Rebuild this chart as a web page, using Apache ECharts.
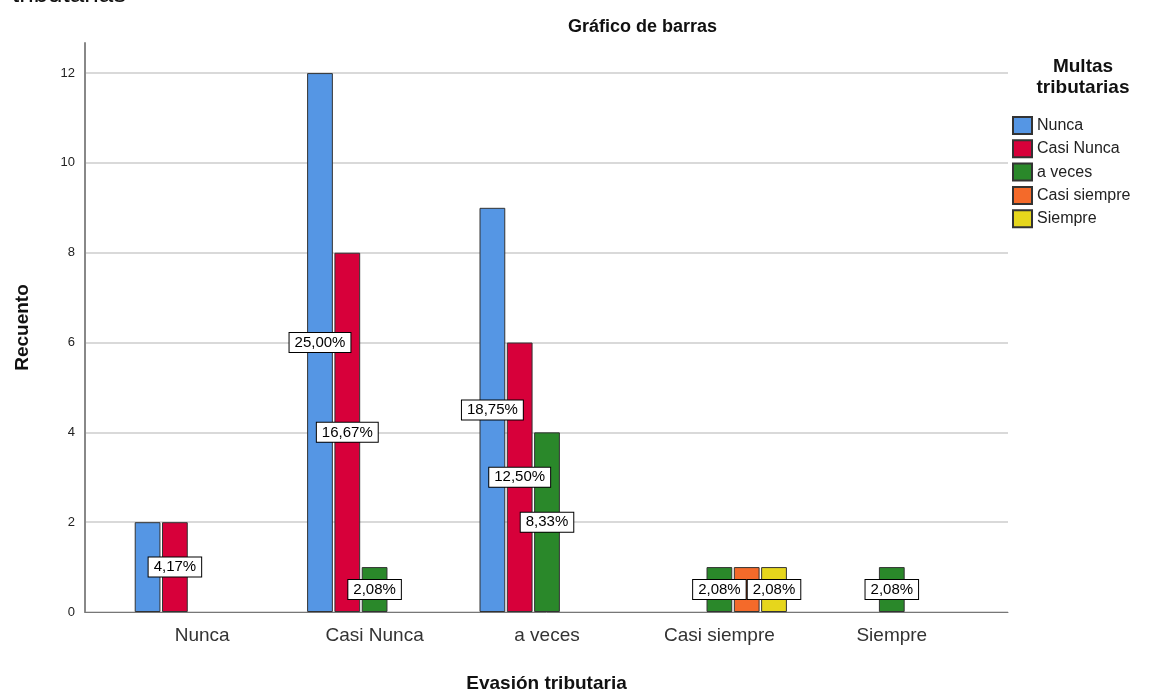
<!DOCTYPE html>
<html>
<head>
<meta charset="utf-8">
<script src="https://cdn.jsdelivr.net/npm/echarts@6/dist/echarts.min.js"></script>
<style>
  html, body { margin: 0; padding: 0; background: #fff; }
  #chart { width: 1162px; height: 691px; }
</style>
</head>
<body>
<div id="chart"></div>
<script>
// categories on the x axis (Evasión tributaria)
const categories = ['Nunca', 'Casi Nunca', 'a veces', 'Casi siempre', 'Siempre'];
// legend groups (Multas tributarias)
const seriesNames = ['Nunca', 'Casi Nunca', 'a veces', 'Casi siempre', 'Siempre'];
const colors = ['#5596e4', '#d7003a', '#2a882a', '#f46a2a', '#e6d61c'];

// counts per series, one per category
const nuncaValues = [2, 12, 9, 0, 0];
const casiNuncaValues = [2, 8, 6, 0, 0];
const aVecesValues = [0, 1, 4, 1, 1];
const casiSiempreValues = [0, 0, 0, 1, 0];
const siempreValues = [0, 0, 0, 1, 0];
const allValues = [nuncaValues, casiNuncaValues, aVecesValues, casiSiempreValues, siempreValues];

// labels SPSS dropped because they overlapped: [seriesIndex, categoryIndex]
const hiddenLabels = [[0, 0], [3, 3]];

const total = allValues.flat().reduce((a, b) => a + b, 0);
const yMax = 12.67;

const pct = v => (v / total * 100).toFixed(2).replace('.', ',') + '%';

const series = allValues.map((vals, si) => ({
  name: seriesNames[si],
  type: 'bar',
  xAxisIndex: 1,
  yAxisIndex: 1,
  barCategoryGap: '21.7%',
  barGap: '6%',
  itemStyle: { color: colors[si], borderColor: '#333', borderWidth: 1 },
  label: {
    show: true,
    position: 'inside',
    formatter: p => pct(p.value),
    backgroundColor: '#fff',
    borderColor: '#000',
    borderWidth: 1,
    padding: [2, 5],
    fontSize: 15,
    fontFamily: 'Liberation Sans, Arial, sans-serif',
    color: '#000'
  },
  data: vals.map((v, ci) => {
    if (v === 0) return '-';
    const hide = hiddenLabels.some(h => h[0] === si && h[1] === ci);
    return hide ? { value: v, label: { show: false } } : v;
  })
}));

const chart = echarts.init(document.getElementById('chart'));
chart.setOption({
  animation: false,
  textStyle: { fontFamily: 'Liberation Sans, Arial, sans-serif' },
  title: {
    text: 'Gráfico de barras',
    left: 563,
    top: 13,
    textStyle: { fontSize: 18, fontWeight: 'bold', color: '#111' }
  },
  graphic: [
    {
      type: 'text',
      x: 12,
      y: -18,
      style: { text: 'tributarias', font: '26px Liberation Sans', fill: '#111' }
    },
    {
      type: 'text',
      x: 1083,
      y: 56,
      style: {
        text: 'Multas\ntributarias',
        align: 'center',
        font: 'bold 19px Liberation Sans',
        lineHeight: 21,
        fill: '#111'
      }
    }
  ],
  legend: {
    orient: 'vertical',
    left: 1012,
    top: 116,
    padding: 0,
    itemWidth: 19,
    itemHeight: 17,
    itemGap: 4.3,
    icon: 'rect',
    textStyle: { fontSize: 16, color: '#222' },
    data: seriesNames
  },
  grid: [
    { left: 85, right: 154, top: 43, bottom: 79, outerBoundsMode: 'none' },
    { left: 116, right: 184, top: 43, bottom: 79, outerBoundsMode: 'none' }
  ],
  xAxis: [
    {
      gridIndex: 0,
      type: 'category',
      data: [''],
      name: 'Evasión tributaria',
      nameLocation: 'middle',
      nameGap: 62,
      nameTextStyle: { fontSize: 19, fontWeight: 'bold', color: '#111' },
      axisLine: { lineStyle: { color: '#777', width: 1 } },
      axisTick: { show: false },
      axisLabel: { show: false }
    },
    {
      gridIndex: 1,
      type: 'category',
      data: categories,
      axisLine: { show: false },
      axisTick: { show: false },
      axisLabel: { fontSize: 19, color: '#333', margin: 14 }
    }
  ],
  yAxis: [
    {
      gridIndex: 0,
      type: 'value',
      min: 0,
      max: yMax,
      interval: 2,
      name: 'Recuento',
      nameLocation: 'middle',
      nameGap: 53,
      nameTextStyle: { fontSize: 19, fontWeight: 'bold', color: '#111' },
      axisLine: { show: true, lineStyle: { color: '#888', width: 2 } },
      axisTick: { show: false },
      axisLabel: {
        fontSize: 13,
        color: '#222',
        margin: 10,
        formatter: v => (v % 2 === 0 ? String(v) : '')
      },
      splitLine: { showMaxLine: false, lineStyle: { color: '#d9d9d9', width: 2 } }
    },
    {
      gridIndex: 1,
      type: 'value',
      min: 0,
      max: yMax,
      show: false
    }
  ],
  series: series
});
</script>
</body>
</html>
